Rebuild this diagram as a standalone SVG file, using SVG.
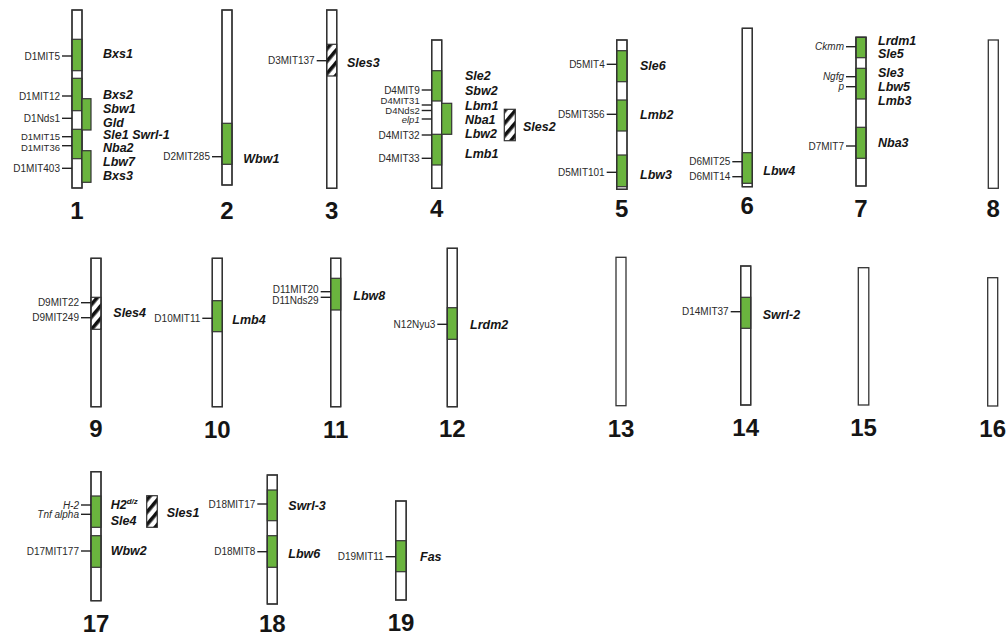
<svg xmlns="http://www.w3.org/2000/svg" width="1008" height="637" viewBox="0 0 1008 637">
<defs>
<pattern id="hatch" patternUnits="userSpaceOnUse" width="8" height="8" patternTransform="rotate(40)">
<rect x="0" y="0" width="8" height="8" fill="#fff"/>
<rect x="0" y="0" width="3.6" height="8" fill="#111"/>
</pattern>
<style>
.chr{fill:#fff;stroke:#333;stroke-width:1.3}
.out{fill:none;stroke:#333;stroke-width:1.3}
.q{fill:#6ab43e;stroke:#333;stroke-width:1.2}
.h{fill:url(#hatch);stroke:#333;stroke-width:1.2}
.t{stroke:#222;stroke-width:1.4}
.mk{font-family:"Liberation Sans",Arial,sans-serif;font-size:10px;fill:#2a2a2a;text-anchor:end}
.sm{font-size:9.5px}
.mi{font-style:italic}
.g{font-family:"Liberation Sans",Arial,sans-serif;font-size:12.5px;font-weight:bold;font-style:italic;fill:#151515}
.n{font-family:"Liberation Sans",Arial,sans-serif;font-size:24px;font-weight:bold;fill:#151515;text-anchor:middle}
</style>
</defs>
<rect width="1008" height="637" fill="#fff"/>

<g id="chr1">
<rect class="chr" x="72" y="10" width="10" height="178"/>
<rect class="q" x="72" y="39.3" width="10" height="31.4"/>
<rect class="q" x="72" y="78.3" width="10" height="32.4"/>
<rect class="q" x="72" y="129.3" width="10" height="29.4"/>
<rect class="out" x="72" y="10" width="10" height="178"/>
<rect class="q" x="82" y="98.7" width="9" height="31.3"/>
<rect class="q" x="82" y="150.7" width="9" height="31.6"/>
<line class="t" x1="62" y1="56" x2="72" y2="56"/><text class="mk" x="60" y="59.5">D1MIT5</text>
<line class="t" x1="62" y1="96" x2="72" y2="96"/><text class="mk" x="60" y="99.5">D1MIT12</text>
<line class="t" x1="62" y1="118.3" x2="72" y2="118.3"/><text class="mk" x="60" y="121.8">D1Nds1</text>
<line class="t" x1="62" y1="136.7" x2="72" y2="136.7"/><text class="mk sm" x="60" y="139.5">D1MIT15</text>
<line class="t" x1="62" y1="145.7" x2="72" y2="145.7"/><text class="mk sm" x="60" y="150.5">D1MIT36</text>
<line class="t" x1="62" y1="168.3" x2="72" y2="168.3"/><text class="mk" x="60" y="171.8">D1MIT403</text>
<text class="g" x="103" y="57.8">Bxs1</text>
<text class="g" x="103" y="99">Bxs2</text>
<text class="g" x="103" y="113">Sbw1</text>
<text class="g" x="103" y="126.8">Gld</text>
<text class="g" x="103" y="139.3">Sle1 Swrl-1</text>
<text class="g" x="103" y="151.6">Nba2</text>
<text class="g" x="103" y="166.4">Lbw7</text>
<text class="g" x="103" y="180.4">Bxs3</text>
<text class="n" x="77" y="218.5">1</text>
</g>

<g id="chr2">
<rect class="chr" x="222" y="10" width="10" height="175"/>
<rect class="q" x="222" y="123.3" width="10" height="41"/>
<rect class="out" x="222" y="10" width="10" height="175"/>
<line class="t" x1="212" y1="156.7" x2="222" y2="156.7"/><text class="mk" x="210" y="160.2">D2MIT285</text>
<text class="g" x="243.3" y="163">Wbw1</text>
<text class="n" x="227" y="218.5">2</text>
</g>

<g id="chr3">
<rect class="chr" x="326.7" y="10" width="10" height="178.3"/>
<rect class="h" x="326.7" y="44.3" width="10" height="31.7"/>
<rect class="out" x="326.7" y="10" width="10" height="178.3"/>
<line class="t" x1="316.7" y1="60.7" x2="326.7" y2="60.7"/><text class="mk" x="314.7" y="64.2">D3MIT137</text>
<text class="g" x="347" y="66.7">Sles3</text>
<text class="n" x="331.7" y="218.5">3</text>
</g>

<g id="chr4">
<rect class="chr" x="431.7" y="40" width="10" height="148.3"/>
<rect class="q" x="431.7" y="70.7" width="10" height="30.3"/>
<rect class="q" x="431.7" y="134.3" width="10" height="30.7"/>
<rect class="out" x="431.7" y="40" width="10" height="148.3"/>
<rect class="q" x="441.7" y="103.3" width="10" height="31"/>
<line class="t" x1="421.7" y1="90" x2="431.7" y2="90"/><text class="mk" x="419.7" y="93.5">D4MIT9</text>
<line class="t" x1="421.7" y1="105" x2="431.7" y2="105"/><text class="mk sm" x="419.7" y="104">D4MIT31</text>
<line class="t" x1="421.7" y1="110.5" x2="431.7" y2="110.5"/><text class="mk sm" x="419.7" y="113.5">D4Nds2</text>
<line class="t" x1="421.7" y1="119" x2="431.7" y2="119"/><text class="mk sm mi" x="419.7" y="122.8">elp1</text>
<line class="t" x1="421.7" y1="135" x2="431.7" y2="135"/><text class="mk" x="419.7" y="138.5">D4MIT32</text>
<line class="t" x1="421.7" y1="158.3" x2="431.7" y2="158.3"/><text class="mk" x="419.7" y="161.8">D4MIT33</text>
<text class="g" x="465" y="79.7">Sle2</text>
<text class="g" x="465" y="94.7">Sbw2</text>
<text class="g" x="465" y="110.2">Lbm1</text>
<text class="g" x="465" y="123.8">Nba1</text>
<text class="g" x="465" y="138">Lbw2</text>
<text class="g" x="465" y="158">Lmb1</text>
<rect class="h" x="504.3" y="109.3" width="11" height="31.4"/>
<text class="g" x="523" y="130.7">Sles2</text>
<text class="n" x="436.7" y="217">4</text>
</g>

<g id="chr5">
<rect class="chr" x="616.7" y="40" width="10.3" height="149.3"/>
<rect class="q" x="616.7" y="50.7" width="10.3" height="31"/>
<rect class="q" x="616.7" y="100" width="10.3" height="31"/>
<rect class="q" x="616.7" y="155" width="10.3" height="31.7"/>
<rect class="out" x="616.7" y="40" width="10.3" height="149.3"/>
<line class="t" x1="606.7" y1="64.3" x2="616.7" y2="64.3"/><text class="mk" x="604.7" y="67.8">D5MIT4</text>
<line class="t" x1="606.7" y1="114.3" x2="616.7" y2="114.3"/><text class="mk" x="604.7" y="117.8">D5MIT356</text>
<line class="t" x1="606.7" y1="172.3" x2="616.7" y2="172.3"/><text class="mk" x="604.7" y="175.8">D5MIT101</text>
<text class="g" x="640" y="69.7">Sle6</text>
<text class="g" x="640" y="118.7">Lmb2</text>
<text class="g" x="640" y="179">Lbw3</text>
<text class="n" x="621.8" y="217">5</text>
</g>

<g id="chr6">
<rect class="chr" x="742.3" y="28.3" width="10" height="158.4"/>
<rect class="q" x="742.3" y="152.7" width="10" height="30.6"/>
<rect class="out" x="742.3" y="28.3" width="10" height="158.4"/>
<line class="t" x1="732.3" y1="161.7" x2="742.3" y2="161.7"/><text class="mk" x="730.3" y="165.2">D6MIT25</text>
<line class="t" x1="732.3" y1="176.7" x2="742.3" y2="176.7"/><text class="mk" x="730.3" y="180.2">D6MIT14</text>
<text class="g" x="763.3" y="175.4">Lbw4</text>
<text class="n" x="747.3" y="214">6</text>
</g>

<g id="chr7">
<rect class="chr" x="856" y="37.3" width="10" height="148.7"/>
<rect class="q" x="856" y="37.3" width="10" height="20.4"/>
<rect class="q" x="856" y="68.3" width="10" height="30.7"/>
<rect class="q" x="856" y="127.3" width="10" height="31"/>
<rect class="out" x="856" y="37.3" width="10" height="148.7"/>
<line class="t" x1="846" y1="46.7" x2="856" y2="46.7"/><text class="mk mi" x="844" y="50.2">Ckmm</text>
<line class="t" x1="846" y1="76.7" x2="856" y2="76.7"/><text class="mk mi" x="844" y="80.2">Ngfg</text>
<line class="t" x1="846" y1="86.7" x2="856" y2="86.7"/><text class="mk mi" x="844" y="89.5">p</text>
<line class="t" x1="846" y1="146" x2="856" y2="146"/><text class="mk" x="844" y="149.5">D7MIT7</text>
<text class="g" x="878" y="45">Lrdm1</text>
<text class="g" x="878" y="58.3">Sle5</text>
<text class="g" x="878" y="77">Sle3</text>
<text class="g" x="878" y="91.4">Lbw5</text>
<text class="g" x="878" y="104.7">Lmb3</text>
<text class="g" x="878" y="147">Nba3</text>
<text class="n" x="861" y="217">7</text>
</g>

<g id="chr8">
<rect class="chr" x="988.3" y="40" width="10" height="148.3"/>
<text class="n" x="993.3" y="217">8</text>
</g>

<g id="chr9">
<rect class="chr" x="91" y="258.3" width="10" height="148.4"/>
<rect class="h" x="91" y="297.3" width="10" height="32"/>
<rect class="out" x="91" y="258.3" width="10" height="148.4"/>
<line class="t" x1="81" y1="302.7" x2="91" y2="302.7"/><text class="mk" x="79" y="306.2">D9MIT22</text>
<line class="t" x1="81" y1="317.7" x2="91" y2="317.7"/><text class="mk" x="79" y="321.2">D9MIT249</text>
<text class="g" x="113.3" y="317">Sles4</text>
<text class="n" x="96" y="437">9</text>
</g>

<g id="chr10">
<rect class="chr" x="212.3" y="258.3" width="10" height="148.4"/>
<rect class="q" x="212.3" y="300.7" width="10" height="31"/>
<rect class="out" x="212.3" y="258.3" width="10" height="148.4"/>
<line class="t" x1="202.3" y1="318.3" x2="212.3" y2="318.3"/><text class="mk" x="200.3" y="321.8">D10MIT11</text>
<text class="g" x="232.3" y="323.7">Lmb4</text>
<text class="n" x="217.3" y="438">10</text>
</g>

<g id="chr11">
<rect class="chr" x="330.7" y="258.3" width="10" height="148.4"/>
<rect class="q" x="330.7" y="278.3" width="10" height="31.7"/>
<rect class="out" x="330.7" y="258.3" width="10" height="148.4"/>
<line class="t" x1="320.7" y1="291.7" x2="330.7" y2="291.7"/><text class="mk" x="318.7" y="292.5">D11MIT20</text>
<line class="t" x1="320.7" y1="297.3" x2="330.7" y2="297.3"/><text class="mk" x="318.7" y="303.5">D11Nds29</text>
<text class="g" x="353.3" y="299.7">Lbw8</text>
<text class="n" x="335.7" y="438">11</text>
</g>

<g id="chr12">
<rect class="chr" x="447.3" y="248.3" width="10" height="158.4"/>
<rect class="q" x="447.3" y="307.7" width="10" height="31.6"/>
<rect class="out" x="447.3" y="248.3" width="10" height="158.4"/>
<line class="t" x1="437.3" y1="324.3" x2="447.3" y2="324.3"/><text class="mk" x="435.3" y="327.8">N12Nyu3</text>
<text class="g" x="470" y="329">Lrdm2</text>
<text class="n" x="452.3" y="437">12</text>
</g>

<g id="chr13">
<rect class="chr" x="616" y="257.3" width="10" height="148.4"/>
<text class="n" x="621" y="437">13</text>
</g>

<g id="chr14">
<rect class="chr" x="740.7" y="266" width="10" height="139"/>
<rect class="q" x="740.7" y="297.3" width="10" height="31"/>
<rect class="out" x="740.7" y="266" width="10" height="139"/>
<line class="t" x1="730.7" y1="311.7" x2="740.7" y2="311.7"/><text class="mk" x="728.7" y="315.2">D14MIT37</text>
<text class="g" x="762.7" y="318.7">Swrl-2</text>
<text class="n" x="745.7" y="436">14</text>
</g>

<g id="chr15">
<rect class="chr" x="858.3" y="267.7" width="10.5" height="137.3"/>
<text class="n" x="863.5" y="435.5">15</text>
</g>

<g id="chr16">
<rect class="chr" x="987.7" y="277.7" width="10" height="128.3"/>
<text class="n" x="992.7" y="437">16</text>
</g>

<g id="chr17">
<rect class="chr" x="91" y="471.7" width="10" height="129"/>
<rect class="q" x="91" y="496" width="10" height="31.3"/>
<rect class="q" x="91" y="535.7" width="10" height="31.6"/>
<rect class="out" x="91" y="471.7" width="10" height="129"/>
<line class="t" x1="81" y1="505" x2="91" y2="505"/><text class="mk mi" x="79" y="508.5">H-2</text>
<line class="t" x1="81" y1="514.3" x2="91" y2="514.3"/><text class="mk mi" x="79" y="517.8">Tnf alpha</text>
<line class="t" x1="81" y1="551" x2="91" y2="551"/><text class="mk" x="79" y="554.5">D17MIT177</text>
<text class="g" x="110.7" y="509">H2<tspan font-size="8" dy="-5">d/z</tspan></text>
<text class="g" x="110.7" y="525.4">Sle4</text>
<text class="g" x="110.7" y="554.7">Wbw2</text>
<rect class="h" x="146.7" y="495.7" width="10.6" height="31.6"/>
<text class="g" x="166.7" y="517">Sles1</text>
<text class="n" x="96" y="632">17</text>
</g>

<g id="chr18">
<rect class="chr" x="267.3" y="475" width="10" height="129"/>
<rect class="q" x="267.3" y="490" width="10" height="30.7"/>
<rect class="q" x="267.3" y="535.7" width="10" height="31.6"/>
<rect class="out" x="267.3" y="475" width="10" height="129"/>
<line class="t" x1="257.3" y1="504" x2="267.3" y2="504"/><text class="mk" x="255.3" y="507.5">D18MIT17</text>
<line class="t" x1="257.3" y1="551.7" x2="267.3" y2="551.7"/><text class="mk" x="255.3" y="555.2">D18MIT8</text>
<text class="g" x="288.3" y="509.7">Swrl-3</text>
<text class="g" x="288.3" y="558">Lbw6</text>
<text class="n" x="272.3" y="632">18</text>
</g>

<g id="chr19">
<rect class="chr" x="395.7" y="501" width="10.5" height="99"/>
<rect class="q" x="395.7" y="540.7" width="10.5" height="31"/>
<rect class="out" x="395.7" y="501" width="10.5" height="99"/>
<line class="t" x1="385.7" y1="556.7" x2="395.7" y2="556.7"/><text class="mk" x="383.7" y="560.2">D19MIT11</text>
<text class="g" x="420" y="561.4">Fas</text>
<text class="n" x="401" y="630.5">19</text>
</g>
</svg>
